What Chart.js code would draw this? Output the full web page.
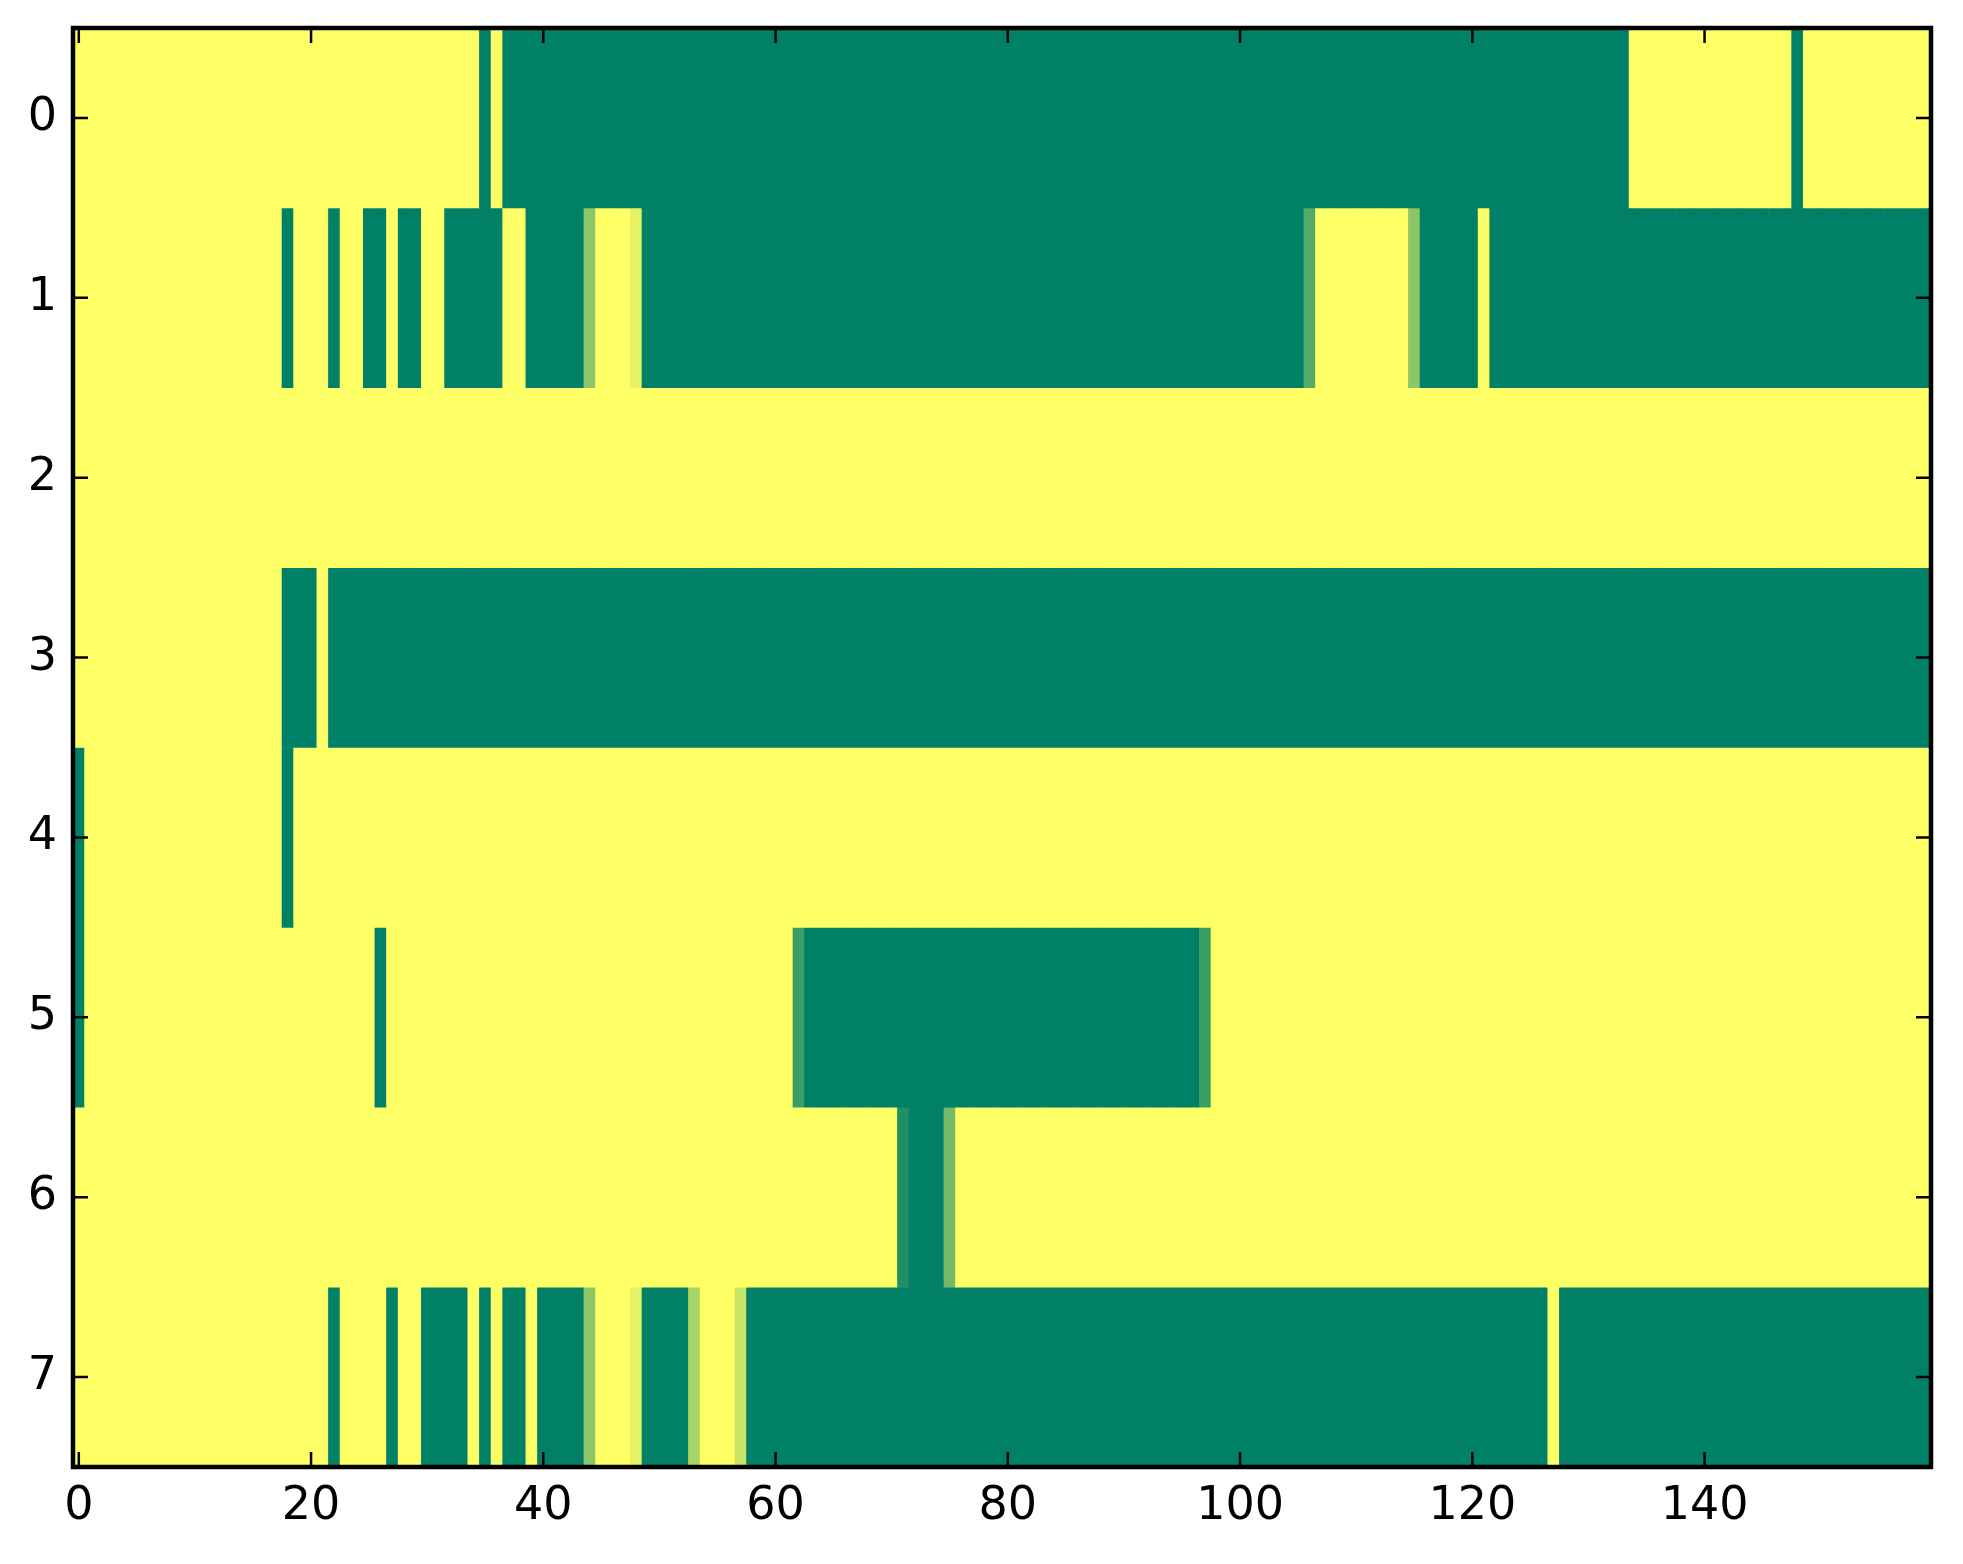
<!DOCTYPE html>
<html>
<head>
<meta charset="utf-8">
<script src="https://cdn.jsdelivr.net/npm/chart.js@4.4.0/dist/chart.umd.min.js"></script>
<style>
  html, body { margin: 0; padding: 0; background: #fff; }
  canvas { display: block; }
</style>
</head>
<body>
<canvas id="chart1" width="1963" height="1564"></canvas>
<script>
// matrix rows, 160 columns each (0 = green, 1 = yellow, "summer" colormap)
var row0 = [
  1,1,1,1,1,1,1,1,1,1,1,1,1,1,1,1,1,1,1,1,
  1,1,1,1,1,1,1,1,1,1,1,1,1,1,1,0,1,0,0,0,
  0,0,0,0,0,0,0,0,0,0,0,0,0,0,0,0,0,0,0,0,
  0,0,0,0,0,0,0,0,0,0,0,0,0,0,0,0,0,0,0,0,
  0,0,0,0,0,0,0,0,0,0,0,0,0,0,0,0,0,0,0,0,
  0,0,0,0,0,0,0,0,0,0,0,0,0,0,0,0,0,0,0,0,
  0,0,0,0,0,0,0,0,0,0,0,0,0,0,1,1,1,1,1,1,
  1,1,1,1,1,1,1,1,0,1,1,1,1,1,1,1,1,1,1,1
];
var row1 = [
  1,1,1,1,1,1,1,1,1,1,1,1,1,1,1,1,1,1,0,1,
  1,1,0,1,1,0,0,1,0,0,1,1,0,0,0,0,0,1,1,0,
  0,0,0,0,0.55,1,1,1,0.9,0,0,0,0,0,0,0,0,0,0,0,
  0,0,0,0,0,0,0,0,0,0,0,0,0,0,0,0,0,0,0,0,
  0,0,0,0,0,0,0,0,0,0,0,0,0,0,0,0,0,0,0,0,
  0,0,0,0,0,0,0.33,1,1,1,1,1,1,1,1,0.55,0,0,0,0,
  0,1,0,0,0,0,0,0,0,0,0,0,0,0,0,0,0,0,0,0,
  0,0,0,0,0,0,0,0,0,0,0,0,0,0,0,0,0,0,0,0
];
var row2 = [
  1,1,1,1,1,1,1,1,1,1,1,1,1,1,1,1,1,1,1,1,
  1,1,1,1,1,1,1,1,1,1,1,1,1,1,1,1,1,1,1,1,
  1,1,1,1,1,1,1,1,1,1,1,1,1,1,1,1,1,1,1,1,
  1,1,1,1,1,1,1,1,1,1,1,1,1,1,1,1,1,1,1,1,
  1,1,1,1,1,1,1,1,1,1,1,1,1,1,1,1,1,1,1,1,
  1,1,1,1,1,1,1,1,1,1,1,1,1,1,1,1,1,1,1,1,
  1,1,1,1,1,1,1,1,1,1,1,1,1,1,1,1,1,1,1,1,
  1,1,1,1,1,1,1,1,1,1,1,1,1,1,1,1,1,1,1,1
];
var row3 = [
  1,1,1,1,1,1,1,1,1,1,1,1,1,1,1,1,1,1,0,0,
  0,1,0,0,0,0,0,0,0,0,0,0,0,0,0,0,0,0,0,0,
  0,0,0,0,0,0,0,0,0,0,0,0,0,0,0,0,0,0,0,0,
  0,0,0,0,0,0,0,0,0,0,0,0,0,0,0,0,0,0,0,0,
  0,0,0,0,0,0,0,0,0,0,0,0,0,0,0,0,0,0,0,0,
  0,0,0,0,0,0,0,0,0,0,0,0,0,0,0,0,0,0,0,0,
  0,0,0,0,0,0,0,0,0,0,0,0,0,0,0,0,0,0,0,0,
  0,0,0,0,0,0,0,0,0,0,0,0,0,0,0,0,0,0,0,0
];
var row4 = [
  0,1,1,1,1,1,1,1,1,1,1,1,1,1,1,1,1,1,0,1,
  1,1,1,1,1,1,1,1,1,1,1,1,1,1,1,1,1,1,1,1,
  1,1,1,1,1,1,1,1,1,1,1,1,1,1,1,1,1,1,1,1,
  1,1,1,1,1,1,1,1,1,1,1,1,1,1,1,1,1,1,1,1,
  1,1,1,1,1,1,1,1,1,1,1,1,1,1,1,1,1,1,1,1,
  1,1,1,1,1,1,1,1,1,1,1,1,1,1,1,1,1,1,1,1,
  1,1,1,1,1,1,1,1,1,1,1,1,1,1,1,1,1,1,1,1,
  1,1,1,1,1,1,1,1,1,1,1,1,1,1,1,1,1,1,1,1
];
var row5 = [
  0,1,1,1,1,1,1,1,1,1,1,1,1,1,1,1,1,1,1,1,
  1,1,1,1,1,1,0,1,1,1,1,1,1,1,1,1,1,1,1,1,
  1,1,1,1,1,1,1,1,1,1,1,1,1,1,1,1,1,1,1,1,
  1,1,0.23,0,0,0,0,0,0,0,0,0,0,0,0,0,0,0,0,0,
  0,0,0,0,0,0,0,0,0,0,0,0,0,0,0,0,0,0.23,1,1,
  1,1,1,1,1,1,1,1,1,1,1,1,1,1,1,1,1,1,1,1,
  1,1,1,1,1,1,1,1,1,1,1,1,1,1,1,1,1,1,1,1,
  1,1,1,1,1,1,1,1,1,1,1,1,1,1,1,1,1,1,1,1
];
var row6 = [
  1,1,1,1,1,1,1,1,1,1,1,1,1,1,1,1,1,1,1,1,
  1,1,1,1,1,1,1,1,1,1,1,1,1,1,1,1,1,1,1,1,
  1,1,1,1,1,1,1,1,1,1,1,1,1,1,1,1,1,1,1,1,
  1,1,1,1,1,1,1,1,1,1,1,0.12,0,0,0,0.45,1,1,1,1,
  1,1,1,1,1,1,1,1,1,1,1,1,1,1,1,1,1,1,1,1,
  1,1,1,1,1,1,1,1,1,1,1,1,1,1,1,1,1,1,1,1,
  1,1,1,1,1,1,1,1,1,1,1,1,1,1,1,1,1,1,1,1,
  1,1,1,1,1,1,1,1,1,1,1,1,1,1,1,1,1,1,1,1
];
var row7 = [
  1,1,1,1,1,1,1,1,1,1,1,1,1,1,1,1,1,1,1,1,
  1,1,0,1,1,1,1,0,1,1,0,0,0,0,1,0,1,0,0,1,
  0,0,0,0,0.55,1,1,1,0.9,0,0,0,0,0.66,1,1,1,0.79,0,0,
  0,0,0,0,0,0,0,0,0,0,0,0,0,0,0,0,0,0,0,0,
  0,0,0,0,0,0,0,0,0,0,0,0,0,0,0,0,0,0,0,0,
  0,0,0,0,0,0,0,0,0,0,0,0,0,0,0,0,0,0,0,0,
  0,0,0,0,0,0,0,1,0,0,0,0,0,0,0,0,0,0,0,0,
  0,0,0,0,0,0,0,0,0,0,0,0,0,0,0,0,0,0,0,0
];

var rows = [row0, row1, row2, row3, row4, row5, row6, row7];
var rowLabels = ["0", "1", "2", "3", "4", "5", "6", "7"];
var xTicks = [0, 20, 40, 60, 80, 100, 120, 140];

// matplotlib "summer": (v, 0.5 + 0.5v, 0.4)
function summer(v) {
  return "rgb(" + Math.round(255 * v) + "," + Math.round(255 * (0.5 + 0.5 * v)) + ",102)";
}

var datasets = rows.map(function (values, r) {
  return {
    label: "row " + rowLabels[r],
    data: values.map(function (v, c) {
      return { x: [c - 0.5, c + 0.5], y: rowLabels[r] };
    }),
    backgroundColor: values.map(summer),
    borderWidth: 0,
    grouped: false,
    barPercentage: 1,
    categoryPercentage: 1,
  };
});

// inward tick marks on all four sides + black frame
var frame = {
  id: "frame",
  afterDatasetsDraw: function (chart) {
    var ctx = chart.ctx;
    var a = chart.chartArea;
    var x = chart.scales.x;
    var y = chart.scales.y;
    var tl = 15;
    ctx.save();
    ctx.strokeStyle = "#000";
    ctx.lineWidth = 2.5;
    ctx.beginPath();
    xTicks.forEach(function (v) {
      var px = x.getPixelForValue(v);
      ctx.moveTo(px, a.bottom); ctx.lineTo(px, a.bottom - tl);
      ctx.moveTo(px, a.top); ctx.lineTo(px, a.top + tl);
    });
    y.ticks.forEach(function (t, i) {
      var py = y.getPixelForTick(i);
      ctx.moveTo(a.left, py); ctx.lineTo(a.left + tl, py);
      ctx.moveTo(a.right, py); ctx.lineTo(a.right - tl, py);
    });
    ctx.stroke();
    ctx.lineWidth = 4.5;
    ctx.strokeRect(a.left, a.top, a.right - a.left, a.bottom - a.top);
    ctx.restore();
  },
};

var font = { family: "'DejaVu Sans'", size: 46 };

new Chart(document.getElementById("chart1"), {
  type: "bar",
  data: { labels: rowLabels, datasets: datasets },
  options: {
    indexAxis: "y",
    responsive: false,
    animation: false,
    devicePixelRatio: 1,
    layout: { padding: { top: 28, right: 32, left: 0, bottom: 0 } },
    plugins: { legend: { display: false }, tooltip: { enabled: false } },
    scales: {
      x: {
        type: "linear",
        min: -0.5,
        max: 159.5,
        grid: { display: false, drawTicks: false },
        border: { display: false },
        afterBuildTicks: function (s) {
          s.ticks = xTicks.map(function (v) { return { value: v }; });
        },
        afterFit: function (s) {
          s.height = 97;
          s.paddingLeft = 0;
          s.paddingRight = 0;
        },
        ticks: { color: "#000", font: font, padding: 12, maxRotation: 0, autoSkip: false },
      },
      y: {
        type: "category",
        offset: true,
        grid: { display: false, drawTicks: false },
        border: { display: false },
        afterFit: function (s) {
          s.width = 73;
          s.paddingTop = 0;
          s.paddingBottom = 0;
        },
        ticks: { color: "#000", font: font, padding: 16 },
      },
    },
  },
  plugins: [frame],
});
</script>
</body>
</html>
